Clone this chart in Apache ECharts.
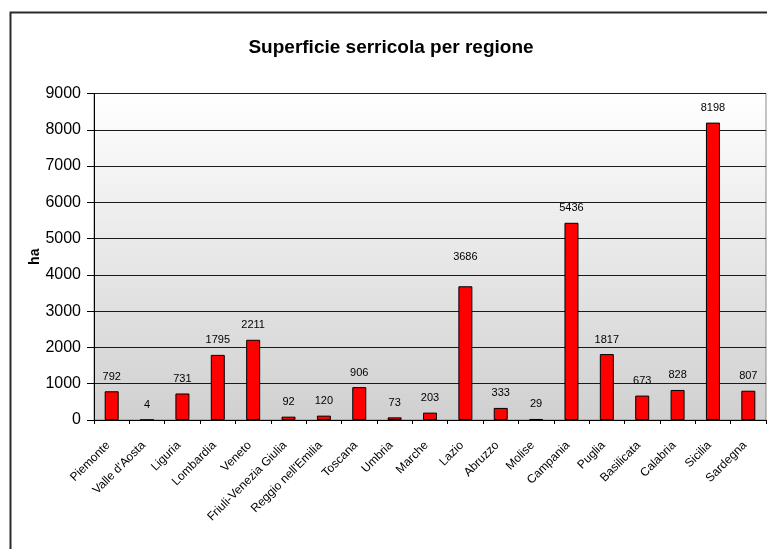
<!DOCTYPE html>
<html>
<head>
<meta charset="utf-8">
<script src="https://cdn.jsdelivr.net/npm/echarts@6/dist/echarts.min.js"></script>
<style>
html, body { margin: 0; padding: 0; background: #ffffff; }
#chart { width: 767px; height: 549px; }
</style>
</head>
<body>
<div id="chart"></div>
<script>
// Greenhouse area (hectares) by Italian region
const regions = [
  'Piemonte', "Valle d'Aosta", 'Liguria', 'Lombardia', 'Veneto',
  'Friuli-Venezia Giulia', "Reggio nell'Emilia", 'Toscana', 'Umbria', 'Marche',
  'Lazio', 'Abruzzo', 'Molise', 'Campania', 'Puglia',
  'Basilicata', 'Calabria', 'Sicilia', 'Sardegna'
];
const hectares = [
  792, 4, 731, 1795, 2211,
  92, 120, 906, 73, 203,
  3686, 333, 29, 5436, 1817,
  673, 828, 8198, 807
];
const yTicks = [0, 1000, 2000, 3000, 4000, 5000, 6000, 7000, 8000, 9000];

const FONT = '"Liberation Sans", Arial, sans-serif';

// Value label of the Lazio bar sits a bit higher than the others
const barData = hectares.map((v, i) => {
  if (regions[i] === 'Lazio') {
    return { value: v, label: { distance: 24 } };
  }
  return v;
});

// Grid lines are dark; the top one coincides with the grey plot border
const splitColors = yTicks.map((t, i) => (i === yTicks.length - 1 ? '#8a8a8a' : '#1a1a1a'));

const chart = echarts.init(document.getElementById('chart'), null, { renderer: 'canvas' });

chart.setOption({
  animation: false,
  backgroundColor: '#ffffff',
  title: {
    text: 'Superficie serricola per regione',
    left: 386,
    textAlign: 'center',
    top: 33,
    textStyle: { fontFamily: FONT, fontSize: 19, fontWeight: 'bold', color: '#000000' }
  },
  grid: {
    left: 94,
    right: 1,
    top: 93.5,
    bottom: 129,
    show: true,
    borderColor: '#8a8a8a',
    borderWidth: 1,
    backgroundColor: {
      type: 'linear', x: 0, y: 0, x2: 0, y2: 1,
      colorStops: [
        { offset: 0, color: '#ffffff' },
        { offset: 1, color: '#d0d0d0' }
      ]
    }
  },
  graphic: [
    {
      type: 'rect',
      left: 8, top: 10,
      shape: { width: 800, height: 600 },
      style: { fill: null, stroke: '#2a2a2a', lineWidth: 2 },
      silent: true,
      z: 100
    }
  ],
  xAxis: {
    type: 'category',
    data: regions,
    axisLine: { show: true, lineStyle: { color: '#000000', width: 1 } },
    axisTick: { show: true, length: 4, alignWithLabel: false, lineStyle: { color: '#000000' } },
    axisLabel: {
      interval: 0,
      rotate: 45,
      margin: 20,
      padding: [0, 5, 0, 0],
      fontFamily: FONT,
      fontSize: 12,
      color: '#000000'
    },
    splitLine: { show: false }
  },
  yAxis: {
    type: 'value',
    min: yTicks[0],
    max: yTicks[yTicks.length - 1],
    interval: 1000,
    name: 'ha',
    nameLocation: 'middle',
    nameGap: 52,
    nameMoveOverlap: false,
    nameRotate: 90,
    nameTextStyle: { fontFamily: FONT, fontSize: 14, fontWeight: 'bold', color: '#000000' },
    axisLine: { show: true, lineStyle: { color: '#000000', width: 1 } },
    axisTick: { show: true, length: 7, inside: false, lineStyle: { color: '#000000' } },
    axisLabel: {
      margin: 13,
      fontFamily: FONT,
      fontSize: 16,
      color: '#000000',
      formatter: (v) => String(v)
    },
    splitLine: { show: true, showMinLine: false, lineStyle: { color: splitColors, width: 1 } }
  },
  series: [
    {
      type: 'bar',
      data: barData,
      barWidth: 14,
      itemStyle: { color: '#ff0000', borderColor: '#000000', borderWidth: 1 },
      label: {
        show: true,
        position: 'top',
        distance: 9,
        fontFamily: FONT,
        fontSize: 11,
        color: '#000000'
      }
    }
  ]
});
</script>
</body>
</html>
